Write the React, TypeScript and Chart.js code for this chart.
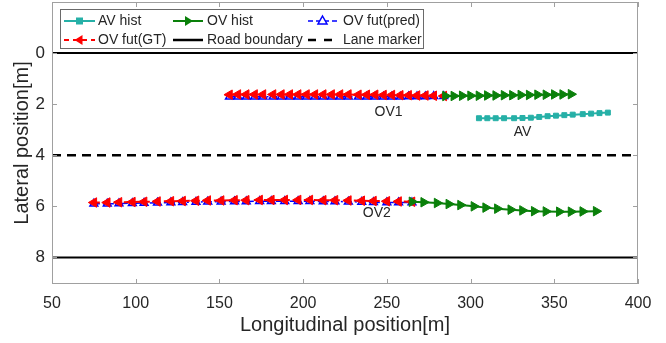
import React, { useEffect, useRef } from 'react';
import { Chart, registerables } from 'chart.js';

Chart.register(...registerables);

// ---------- data ----------
const avHistX = [305, 310, 315, 320, 326, 331, 336, 341, 346, 351, 356, 361, 367, 372, 377, 382];
const avHistY = [2.55, 2.55, 2.55, 2.55, 2.55, 2.54, 2.53, 2.5, 2.47, 2.45, 2.43, 2.41, 2.39, 2.37, 2.35, 2.33];

const ov1HistX = [285, 290, 295, 300, 305, 310, 315, 320, 325, 330, 335, 340, 345, 350, 355, 360];
const ov1HistY = [1.68, 1.68, 1.67, 1.67, 1.67, 1.66, 1.66, 1.65, 1.65, 1.64, 1.64, 1.63, 1.63, 1.62, 1.62, 1.61];

const ov1GtX = [156, 161, 166, 171, 176, 182, 187, 192, 197, 202, 207, 212, 217, 222, 227, 233, 238, 243, 248, 253, 258, 263, 268, 273, 278, 284];
const ov1GtY = [1.63, 1.62, 1.62, 1.62, 1.62, 1.62, 1.62, 1.62, 1.62, 1.62, 1.62, 1.62, 1.62, 1.62, 1.62, 1.63, 1.63, 1.63, 1.64, 1.64, 1.65, 1.65, 1.66, 1.66, 1.67, 1.68];

const ov1PredX = [156, 161, 166, 171, 176, 182, 187, 192, 197, 202, 207, 212, 217, 222, 227, 233, 238, 243, 248, 253, 258, 263, 268, 273, 278, 284];
const ov1PredY = [1.71, 1.71, 1.71, 1.71, 1.71, 1.71, 1.71, 1.71, 1.71, 1.71, 1.71, 1.71, 1.71, 1.71, 1.71, 1.71, 1.71, 1.71, 1.71, 1.71, 1.71, 1.7, 1.7, 1.7, 1.69, 1.69];

const ov2HistX = [265, 272, 280, 287, 294, 302, 309, 316, 324, 331, 338, 345, 353, 360, 367, 375];
const ov2HistY = [5.82, 5.84, 5.87, 5.91, 5.95, 6.0, 6.05, 6.09, 6.13, 6.16, 6.19, 6.2, 6.21, 6.21, 6.2, 6.19];

const ov2GtX = [75, 83, 90, 98, 105, 113, 121, 128, 136, 143, 151, 159, 166, 174, 181, 189, 197, 204, 212, 219, 227, 235, 242, 250, 257, 265];
const ov2GtY = [5.85, 5.85, 5.84, 5.83, 5.82, 5.81, 5.8, 5.79, 5.78, 5.77, 5.77, 5.76, 5.76, 5.75, 5.75, 5.75, 5.75, 5.75, 5.76, 5.76, 5.77, 5.78, 5.79, 5.8, 5.81, 5.82];

const ov2PredX = [75, 83, 90, 98, 105, 113, 121, 128, 136, 143, 151, 159, 166, 174, 181, 189, 197, 204, 212, 219, 227, 235, 242, 250, 257, 265];
const ov2PredY = [5.9, 5.9, 5.89, 5.88, 5.87, 5.86, 5.85, 5.84, 5.83, 5.82, 5.82, 5.81, 5.81, 5.8, 5.8, 5.8, 5.8, 5.8, 5.81, 5.81, 5.82, 5.83, 5.84, 5.85, 5.85, 5.85];

const roadBoundaryY = [0, 8];
const laneMarkerY = [4];

const xRange = [50, 400];
const yRange = [-2, 9.04];
const xTickValues = [50, 100, 150, 200, 250, 300, 350, 400];
const yTickValues = [0, 2, 4, 6, 8];

const vehicleLabels = ['OV1', 'AV', 'OV2'];
const vehicleLabelX = [251, 331, 244];
const vehicleLabelY = [2.3, 3.1, 6.27];

const legendLabels = ['AV hist', 'OV hist', 'OV fut(pred)', 'OV fut(GT)', 'Road boundary', 'Lane marker'];

const xTitle = 'Longitudinal position[m]';
const yTitle = 'Lateral position[m]';

// ---------- styles ----------
const FONT = '"Liberation Sans", Arial, Helvetica, sans-serif';
const TEXT = '#262626';
const TEAL = '#26b0a7';
const GREEN = '#0a800a';
const RED = '#ff0000';
const BLUE = '#0000ff';
const GTDASH = [6, 4];
const PREDDASH = [6, 3, 2, 3];
const LANEDASH = [9, 6];

const pts = (xs: number[], ys: number[]) => xs.map((x, i) => ({ x, y: ys[i] }));

function drawMarker(ctx: CanvasRenderingContext2D, kind: string, x: number, y: number, color: string) {
  ctx.save();
  ctx.setLineDash([]);
  ctx.strokeStyle = color;
  ctx.fillStyle = color;
  ctx.lineWidth = 1.5;
  ctx.beginPath();
  if (kind === 'square') {
    ctx.rect(x - 3.5, y - 3.5, 7, 7);
    ctx.fill();
  } else if (kind === 'right') {
    ctx.moveTo(x + 5, y);
    ctx.lineTo(x - 3, y - 5);
    ctx.lineTo(x - 3, y + 5);
    ctx.closePath();
    ctx.fill();
  } else if (kind === 'left') {
    ctx.moveTo(x - 5, y);
    ctx.lineTo(x + 3, y - 5);
    ctx.lineTo(x + 3, y + 5);
    ctx.closePath();
    ctx.fill();
  } else if (kind === 'up') {
    ctx.moveTo(x, y - 5);
    ctx.lineTo(x + 4.5, y + 3);
    ctx.lineTo(x - 4.5, y + 3);
    ctx.closePath();
    ctx.fillStyle = '#fff';
    ctx.fill();
    ctx.stroke();
  }
  ctx.restore();
}

const framePlugin = {
  id: 'framePlugin',
  afterDraw(chart: any) {
    const { ctx, chartArea } = chart;
    const { left, right, top, bottom } = chartArea;
    const xs = chart.scales.x;
    const ys = chart.scales.y;
    ctx.save();
    // box
    ctx.strokeStyle = '#a0a0a0';
    ctx.lineWidth = 1;
    ctx.setLineDash([]);
    ctx.strokeRect(left + 0.5, top + 0.5, right - left - 1, bottom - top - 1);
    // inward ticks
    ctx.beginPath();
    xTickValues.forEach((v) => {
      const px = Math.round(xs.getPixelForValue(v)) + 0.5;
      ctx.moveTo(px, bottom);
      ctx.lineTo(px, bottom - 5);
      ctx.moveTo(px, top);
      ctx.lineTo(px, top + 5);
    });
    yTickValues.forEach((v) => {
      const py = Math.round(ys.getPixelForValue(v)) + 0.5;
      ctx.moveTo(left, py);
      ctx.lineTo(left + 5, py);
      ctx.moveTo(right, py);
      ctx.lineTo(right - 5, py);
    });
    ctx.stroke();

    // vehicle labels
    ctx.fillStyle = TEXT;
    ctx.font = `14px ${FONT}`;
    ctx.textAlign = 'center';
    ctx.textBaseline = 'middle';
    vehicleLabels.forEach((t, i) => {
      ctx.fillText(t, xs.getPixelForValue(vehicleLabelX[i]), ys.getPixelForValue(vehicleLabelY[i]));
    });

    // legend
    const bx = left + 8;
    const by = top + 7;
    const bw = 363;
    const bh = 39;
    ctx.fillStyle = '#ffffff';
    ctx.fillRect(bx, by, bw, bh);
    ctx.strokeStyle = '#6a6a6a';
    ctx.lineWidth = 1;
    ctx.strokeRect(bx + 0.5, by + 0.5, bw, bh);
    const rows = [by + 12, by + 31];
    const cols = [
      { ls: 4, le: 35, tx: 38 },
      { ls: 113, le: 143, tx: 147 },
      { ls: 248, le: 277, tx: 283 },
    ];
    const styles = [
      { color: TEAL, dash: [] as number[], w: 2, marker: 'square' },
      { color: GREEN, dash: [], w: 2, marker: 'right' },
      { color: BLUE, dash: [5, 3], w: 1.5, marker: 'up' },
      { color: RED, dash: [5, 4], w: 2, marker: 'left' },
      { color: '#000', dash: [], w: 2.5, marker: '' },
      { color: '#000', dash: [8, 8], w: 2.5, marker: '' },
    ];
    legendLabels.forEach((label, i) => {
      const r = Math.floor(i / 3);
      const c = i % 3;
      const y = rows[r];
      const col = cols[c];
      const st = styles[i];
      ctx.save();
      ctx.strokeStyle = st.color;
      ctx.lineWidth = st.w;
      ctx.setLineDash(st.dash);
      ctx.beginPath();
      ctx.moveTo(bx + col.ls, y);
      ctx.lineTo(bx + col.le, y);
      ctx.stroke();
      ctx.restore();
      if (st.marker) drawMarker(ctx, st.marker, bx + (col.ls + col.le) / 2, y, st.color);
      ctx.fillStyle = TEXT;
      ctx.font = `14px ${FONT}`;
      ctx.textAlign = 'left';
      ctx.textBaseline = 'middle';
      ctx.fillText(label, bx + col.tx, y + 0.5);
    });
    ctx.restore();
  },
};

export default function App() {
  const ref = useRef<HTMLCanvasElement | null>(null);
  useEffect(() => {
    if (!ref.current) return;
    const line = (data: any, color: string, extra: any) => ({
      type: 'line',
      data,
      borderColor: color,
      backgroundColor: color,
      pointBorderColor: color,
      pointBackgroundColor: color,
      fill: false,
      tension: 0,
      ...extra,
    });
    const hLine = (y: number) => [
      { x: xRange[0], y },
      { x: xRange[1], y },
    ];
    const chart = new Chart(ref.current, {
      type: 'line',
      data: {
        datasets: [
          line(pts(avHistX, avHistY), TEAL, { borderWidth: 2, pointStyle: 'rect', pointRadius: 3.5, pointBorderWidth: 1 }),
          line(pts(ov1HistX, ov1HistY), GREEN, { borderWidth: 2, pointStyle: 'triangle', pointRotation: 90, pointRadius: 5.5, pointBorderWidth: 1 }),
          line(pts(ov2HistX, ov2HistY), GREEN, { borderWidth: 2, pointStyle: 'triangle', pointRotation: 90, pointRadius: 5.5, pointBorderWidth: 1 }),
          line(pts(ov1GtX, ov1GtY), RED, { borderWidth: 2, borderDash: GTDASH, pointStyle: 'triangle', pointRotation: -90, pointRadius: 5.5, pointBorderWidth: 1 }),
          line(pts(ov2GtX, ov2GtY), RED, { borderWidth: 2, borderDash: GTDASH, pointStyle: 'triangle', pointRotation: -90, pointRadius: 5.5, pointBorderWidth: 1 }),
          line(pts(ov1PredX, ov1PredY), BLUE, { borderWidth: 1.5, borderDash: PREDDASH, pointStyle: 'triangle', pointRadius: 4.5, pointBorderWidth: 1.5, pointBackgroundColor: 'rgba(255,255,255,0)' }),
          line(pts(ov2PredX, ov2PredY), BLUE, { borderWidth: 1.5, borderDash: PREDDASH, pointStyle: 'triangle', pointRadius: 4.5, pointBorderWidth: 1.5, pointBackgroundColor: 'rgba(255,255,255,0)' }),
          ...roadBoundaryY.map((y) => line(hLine(y), '#000', { borderWidth: 2, pointRadius: 0 })),
          ...laneMarkerY.map((y) => line(hLine(y), '#000', { borderWidth: 2.5, borderDash: LANEDASH, pointRadius: 0 })),
        ] as any,
      },
      options: {
        animation: false,
        responsive: false,
        maintainAspectRatio: false,
        layout: { autoPadding: false, padding: { top: 2, right: 28, left: 0, bottom: 0 } },
        plugins: { legend: { display: false }, tooltip: { enabled: false } },
        scales: {
          x: {
            type: 'linear',
            min: xRange[0],
            max: xRange[1],
            afterBuildTicks: (s: any) => {
              s.ticks = xTickValues.map((v) => ({ value: v }));
            },
            afterFit: (s: any) => {
              s.height = 59;
              s.paddingLeft = 0;
              s.paddingRight = 0;
              s.paddingTop = 0;
              s.paddingBottom = 0;
            },
            grid: { display: false, drawTicks: false },
            border: { display: false },
            ticks: { color: TEXT, font: { family: FONT, size: 16 }, padding: 10, maxRotation: 0, autoSkip: false },
            title: { display: true, text: xTitle, color: TEXT, font: { family: FONT, size: 20 }, padding: { top: 0, bottom: 6 } },
          },
          y: {
            type: 'linear',
            reverse: true,
            min: yRange[0],
            max: yRange[1],
            afterBuildTicks: (s: any) => {
              s.ticks = yTickValues.map((v) => ({ value: v }));
            },
            afterFit: (s: any) => {
              s.width = 52;
              s.paddingLeft = 0;
              s.paddingRight = 0;
              s.paddingTop = 0;
              s.paddingBottom = 0;
            },
            grid: { display: false, drawTicks: false },
            border: { display: false },
            ticks: { color: TEXT, font: { family: FONT, size: 17 }, padding: 7, autoSkip: false },
            title: { display: true, text: yTitle, color: TEXT, font: { family: FONT, size: 20 }, padding: { top: 10, bottom: 0 } },
          },
        },
      } as any,
      plugins: [framePlugin],
    });
    return () => chart.destroy();
  }, []);
  return (
    <div style={{ position: 'fixed', left: 0, top: 0, width: 666, height: 343, background: '#fff' }}>
      <canvas ref={ref} width={666} height={343} style={{ display: 'block', width: 666, height: 343 }} />
    </div>
  );
}
